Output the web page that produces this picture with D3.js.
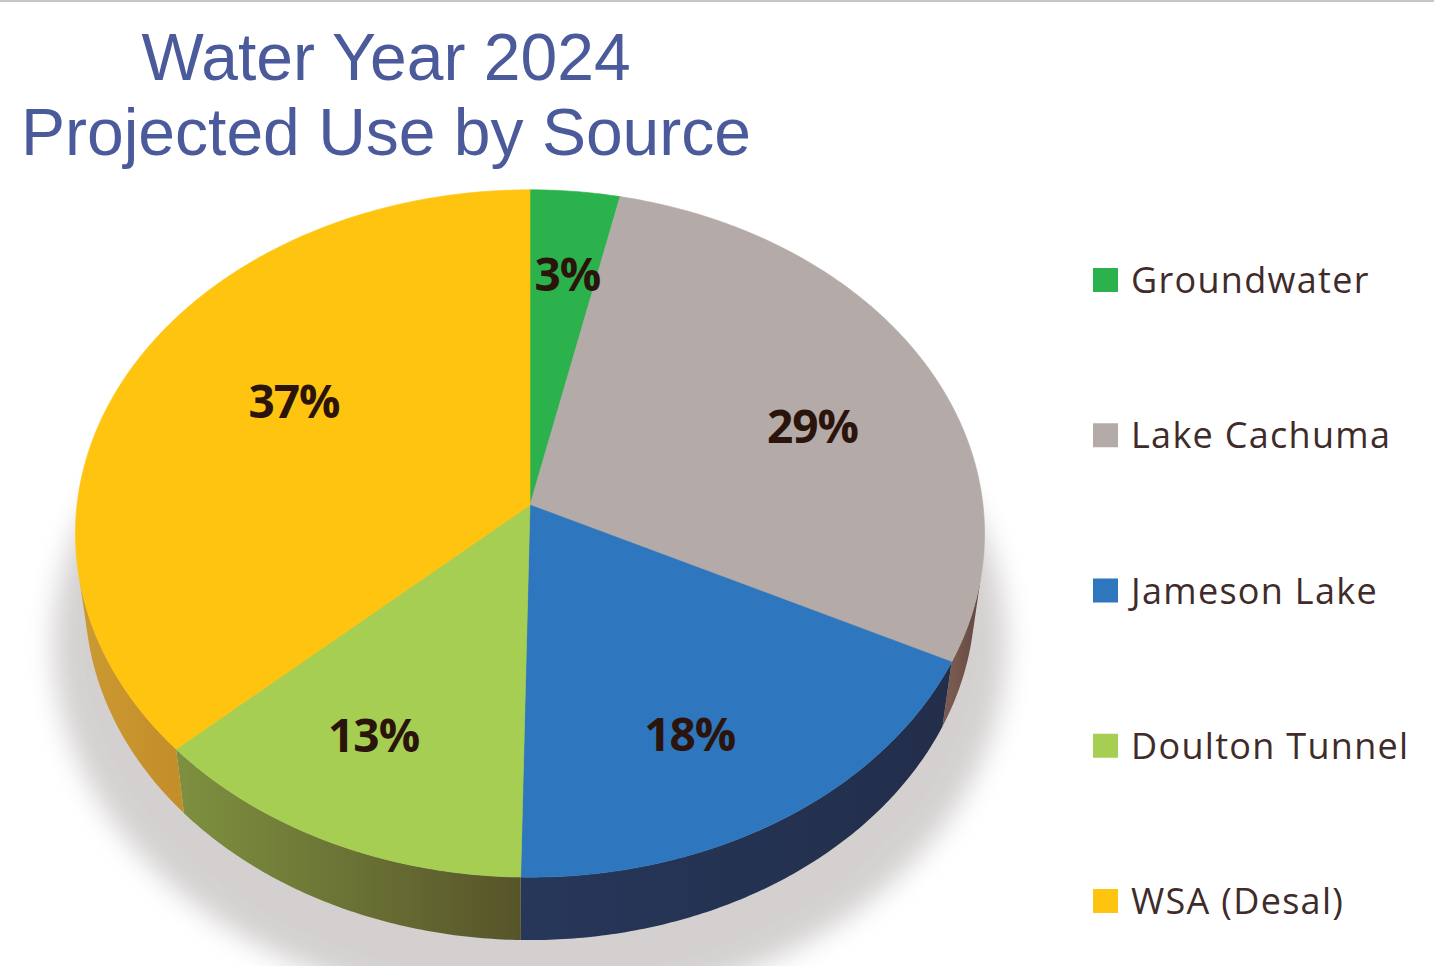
<!DOCTYPE html>
<html>
<head>
<meta charset="utf-8">
<script src="https://cdn.jsdelivr.net/npm/d3@7"></script>
<style>
  body { margin: 0; background: #fff; }
  svg { display: block; }
</style>
</head>
<body>
<svg width="1434" height="966"></svg>
<script>
// data (slice sizes estimated from the slice edges, labels as printed)
const sources = ['Groundwater', 'Lake Cachuma', 'Jameson Lake', 'Doulton Tunnel', 'WSA (Desal)'];
const shares = [3.45, 28.85, 18.0, 12.9, 36.8];
const shareLabels = ['3%', '29%', '18%', '13%', '37%'];
const titleLines = ['Water Year 2024', 'Projected Use by Source'];

const topColors = ['#2cb24c', '#b4aaa7', '#2e76bd', '#a6ce53', '#fec40f'];
const sideLight = ['#23903d', '#7a5a50', '#27375a', '#7e913f', '#cb9a31'];
const sideDark = ['#1d7a33', '#60463f', '#222e4a', '#57542a', '#c48e2b'];

const svg = d3.select('svg');
const width = +svg.attr('width');
const height = +svg.attr('height');

// perspective camera for the 3d pie
const tilt = 48.9 * Math.PI / 180;
const camDist = 7.93;
const focal = 3592;
const cx = 530, cy = 505;
const thick = 0.225;

const project = (px, py, pz) => {
    const c = Math.cos(tilt), s = Math.sin(tilt);
    const dy = py - camDist * c, dz = pz - camDist * s;
    const d = -dy * c - dz * s;
    const ys = -dy * s + dz * c;
    return [cx + focal * px / d, cy - focal * ys / d];
};
const rim = (a, r, z) => project(r * Math.sin(a), -r * Math.cos(a), z);
const arcPts = (a0, a1, r, z) => {
    const n = Math.max(2, Math.ceil(Math.abs(a1 - a0) / 0.01));
    return d3.range(n + 1).map(i => rim(a0 + (a1 - a0) * i / n, r, z));
};

const color = d3.scaleOrdinal().domain(sources).range(topColors);
const pie = d3.pie().sort(null).value(d => d.value);
const arcs = pie(sources.map((s, i) => ({ name: s, value: shares[i], label: shareLabels[i], i })));
const line = d3.line();

const defs = svg.append('defs');
defs.append('filter').attr('id', 'blur')
    .attr('x', '-20%').attr('y', '-20%').attr('width', '140%').attr('height', '140%')
    .append('feGaussianBlur').attr('stdDeviation', 13);

svg.append('rect').attr('x', 0).attr('y', 0).attr('width', width).attr('height', 2).attr('fill', '#c6c6c6');

// soft shadow under the pie
svg.append('path')
    .attr('d', line(arcPts(0, 2 * Math.PI, 1.07, -thick).map(p => [p[0], p[1] + 42])) + 'Z')
    .attr('fill', '#c4bfbf')
    .attr('opacity', 0.72)
    .attr('filter', 'url(#blur)');

// outer wall, only the part that faces the camera
const c0 = 1 / (camDist * Math.cos(tilt));
const wallMin = Math.acos(-c0), wallMax = 2 * Math.PI - Math.acos(-c0);

const walls = svg.append('g');
arcs.forEach(d => {
    const s = Math.max(d.startAngle, wallMin), e = Math.min(d.endAngle, wallMax);
    if (e <= s) return;
    const top = arcPts(s, e, 1, 0);
    const bottom = arcPts(e, s, 1, -thick);
    const gid = 'wall' + d.data.i;
    const x1 = top[0][0], x2 = top[top.length - 1][0];
    const g = defs.append('linearGradient').attr('id', gid)
        .attr('gradientUnits', 'userSpaceOnUse')
        .attr('x1', Math.min(x1, x2)).attr('x2', Math.max(x1, x2)).attr('y1', 0).attr('y2', 0);
    g.append('stop').attr('offset', 0).attr('stop-color', sideLight[d.data.i]);
    g.append('stop').attr('offset', 1).attr('stop-color', sideDark[d.data.i]);
    walls.append('path')
        .attr('d', line(top.concat(bottom)) + 'Z')
        .attr('fill', `url(#${gid})`);
});

// top faces
const faces = svg.append('g');
arcs.forEach(d => {
    const pts = [project(0, 0, 0)].concat(arcPts(d.startAngle, d.endAngle, 1, 0));
    faces.append('path')
        .attr('d', line(pts) + 'Z')
        .attr('fill', color(d.data.name))
        .attr('stroke', color(d.data.name))
        .attr('stroke-width', 0.6);
});

// percentage labels: near the sector centroid, nudged a little clockwise
const labelPos = d => {
    const half = (d.endAngle - d.startAngle) / 2;
    const r = Math.min(0.72, 1.17 * (2 / 3) * Math.sin(half) / half);
    const a = (d.startAngle + d.endAngle) / 2 + 0.12 * Math.sin(half);
    return rim(a, r, 0);
};
svg.append('g').selectAll('text').data(arcs).enter().append('text')
    .attr('x', d => labelPos(d)[0])
    .attr('y', d => labelPos(d)[1] + 16)
    .attr('text-anchor', 'middle')
    .attr('font-family', '"Open Sans", sans-serif')
    .attr('font-weight', 'bold')
    .attr('font-size', 46)
    .attr('letter-spacing', -1)
    .attr('fill', '#2b140c')
    .text(d => d.data.label);

// legend
const legendY = d3.scalePoint().domain(sources).range([280, 901]);
const legend = svg.append('g').selectAll('g').data(sources).enter().append('g')
    .attr('transform', d => `translate(1093, ${legendY(d)})`);
legend.append('rect')
    .attr('x', 0).attr('y', -12).attr('width', 25).attr('height', 24)
    .attr('fill', d => color(d));
legend.append('text')
    .attr('x', 38).attr('y', 13)
    .attr('font-family', '"Open Sans", sans-serif')
    .attr('font-size', 36)
    .attr('letter-spacing', 1.3)
    .attr('fill', '#3f2c2a')
    .text(d => d);

// title
svg.append('g').selectAll('text').data(titleLines).enter().append('text')
    .attr('x', 386)
    .attr('y', (d, i) => 80 + i * 75)
    .attr('text-anchor', 'middle')
    .attr('font-family', '"Liberation Sans", Arial, sans-serif')
    .attr('font-size', 66)
    .attr('fill', '#4b5a9b')
    .text(d => d);
</script>
</body>
</html>
